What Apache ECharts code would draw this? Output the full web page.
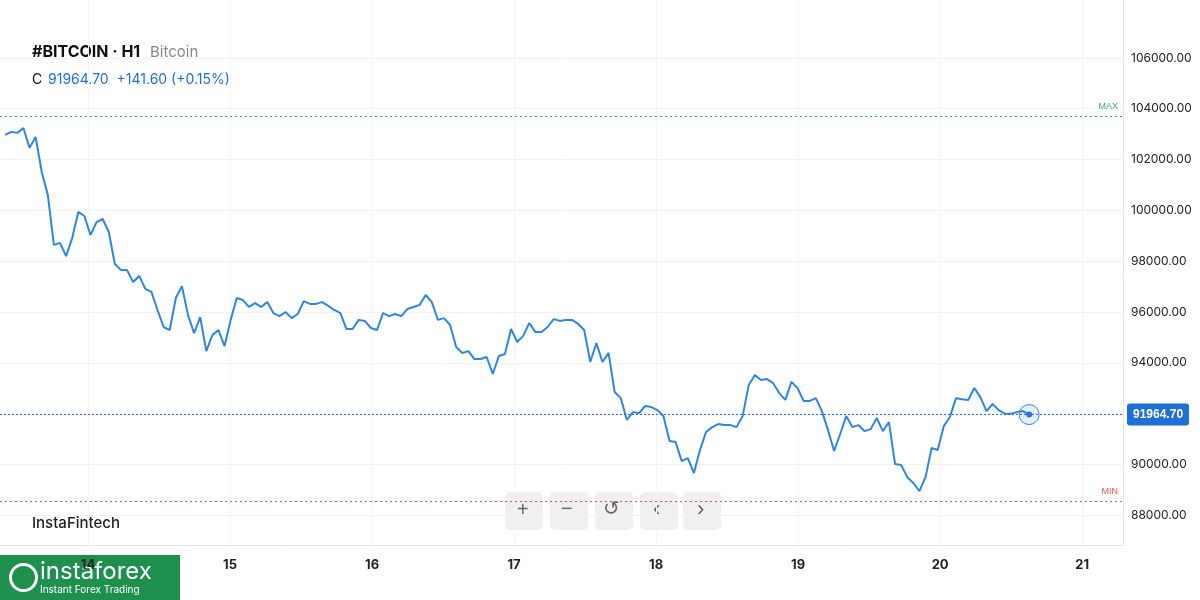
<!DOCTYPE html>
<html>
<head>
<meta charset="utf-8">
<script src="https://cdn.jsdelivr.net/npm/echarts@6/dist/echarts.min.js"></script>
<style>
  body { margin: 0; background: #fff; }
  #chart { width: 1200px; height: 600px; }
</style>
</head>
<body>
<div id="chart"></div>
<script>
// closes sampled about every hour, first sample near hour 10 of day 13
const startHour = 10;
const sampleHours = 1.03;
const prices = [
  102970, 103090, 103050, 103240, 102460, 102890, 101510, 100610, 98640, 98720,
  98200, 98910, 99940, 99780, 99030, 99540, 99660, 99150, 97890, 97650,
  97650, 97180, 97420, 96910, 96790, 96080, 95410, 95290, 96550, 97020,
  95880, 95170, 95800, 94460, 95090, 95290, 94660, 95690, 96550, 96470,
  96200, 96350, 96200, 96390, 95960, 95840, 96000, 95760, 95920, 96430,
  96320, 96320, 96390, 96240, 96080, 95960, 95330, 95330, 95690, 95650,
  95370, 95290, 95960, 95840, 95920, 95840, 96120, 96200, 96280, 96670,
  96390, 95690, 95760, 95490, 94620, 94390, 94460, 94150, 94150, 94230,
  93560, 94270, 94350, 95330, 94820, 95060, 95570, 95210, 95210, 95410,
  95720, 95650, 95690, 95690, 95530, 95290, 94030, 94780, 94030, 94390,
  92850, 92610, 91750, 92060, 92020, 92300, 92260, 92140, 91910, 90920,
  90880, 90130, 90250, 89660, 90570, 91280, 91470, 91590, 91550, 91550,
  91470, 91910, 93130, 93520, 93320, 93360, 93200, 92810, 92540, 93250,
  93010, 92500, 92500, 92610, 92100, 91350, 90530, 91200, 91910, 91470,
  91550, 91310, 91390, 91830, 91310, 91670, 90020, 89980, 89500, 89270,
  88950, 89500, 90650, 90570, 91510, 91870, 92610, 92570, 92540, 93010,
  92650, 92100, 92380, 92140, 92000, 92000, 92060, 92100, 91964.7
];
const yTicks = [88000, 90000, 92000, 94000, 96000, 98000, 100000, 102000, 104000, 106000];
const dayTicks = [24, 48, 72, 96, 120, 144, 168, 192];
const maxLevel = 103700;
const minLevel = 88560;
const lastPrice = 91964.70;

const lineData = prices.map((p, i) => [startHour + i * sampleHours, p]);
const lastPoint = lineData[lineData.length - 1];

const chart = echarts.init(document.getElementById("chart"));
chart.setOption({
  animation: false,
  grid: { left: 0, right: 77, top: 0, bottom: 55 },
  xAxis: {
    type: "value", min: 9.13, max: 198.9,
    axisLine: { show: true, lineStyle: { color: "#e6e6e6" } },
    axisTick: { show: false, customValues: dayTicks },
    splitLine: { show: true, lineStyle: { color: "#f4f4f4" } },
    axisLabel: {
      customValues: dayTicks, color: "#222", fontSize: 13, fontWeight: "bold",
      fontFamily: "Inter", margin: 14,
      formatter: v => String(13 + v / 24)
    }
  },
  yAxis: {
    type: "value", position: "right", min: 86830, max: 108280,
    axisLine: { show: true, lineStyle: { color: "#e6e6e6" } },
    axisTick: { show: false, customValues: yTicks },
    splitLine: { show: true, lineStyle: { color: "#f2f2f2" } },
    axisLabel: {
      customValues: yTicks, color: "#222", fontSize: 12, fontFamily: "Inter", margin: 8,
      formatter: v => v.toFixed(2)
    }
  },
  series: [{
    type: "line", data: lineData, symbol: "none",
    lineStyle: { color: "#2f86de", width: 2 },
    markLine: {
      silent: true, symbol: "none",
      data: [
        { yAxis: maxLevel, lineStyle: { color: "#3aa76d", type: [2, 3], width: 1 },
          label: { formatter: "MAX", position: "insideEndTop", color: "#3aa76d", fontSize: 9 } },
        { yAxis: minLevel, lineStyle: { color: "#e05555", type: [2, 3], width: 1 },
          label: { formatter: "MIN", position: "insideEndTop", color: "#e05555", fontSize: 9 } },
        { yAxis: lastPrice, lineStyle: { color: "#2f6fd0", type: [2, 2], width: 1 },
          label: { formatter: "91964.70", position: "end", color: "#fff", backgroundColor: "#1f6fd6",
                   padding: [5, 6], borderRadius: 3, fontSize: 12, fontWeight: "bold", distance: 4 } }
      ]
    },
    markPoint: {
      symbol: "circle", silent: true, label: { show: false },
      data: [
        { coord: lastPoint, symbolSize: 20,
          itemStyle: { color: "rgba(47,134,222,0.12)", borderColor: "#2f86de", borderWidth: 1 } },
        { coord: lastPoint, symbolSize: 6, itemStyle: { color: "#2f6fd0" } }
      ]
    }
  }],
  graphic: [
    { type: "text", left: 32, top: 44, style: { text: "#BITCOIN · H1", fontSize: 16, fontWeight: "bold", fill: "#111", fontFamily: "Inter" } },
    { type: "text", left: 150, top: 45, style: { text: "Bitcoin", fontSize: 15, fill: "#888", fontFamily: "Inter" } },
    { type: "text", left: 32, top: 73, style: { text: "C", fontSize: 14, fill: "#111", fontFamily: "Inter" } },
    { type: "text", left: 48, top: 73, style: { text: "91964.70  +141.60 (+0.15%)", fontSize: 14, fill: "#1f6fd6", fontFamily: "Inter" } },
    { type: "text", left: 32, top: 516, style: { text: "InstaFintech", fontSize: 15, fill: "#222", fontFamily: "Inter", fontWeight: 500 } },
    { type: "rect", left: 505, top: 492, shape: { width: 38, height: 38, r: 5 }, style: { fill: "#f0f0f0" } },
    { type: "rect", left: 550, top: 492, shape: { width: 38, height: 38, r: 5 }, style: { fill: "#f0f0f0" } },
    { type: "rect", left: 595, top: 492, shape: { width: 38, height: 38, r: 5 }, style: { fill: "#f0f0f0" } },
    { type: "rect", left: 640, top: 492, shape: { width: 38, height: 38, r: 5 }, style: { fill: "#f0f0f0" } },
    { type: "rect", left: 683, top: 492, shape: { width: 38, height: 38, r: 5 }, style: { fill: "#f0f0f0" } },
    { type: "text", left: 517, top: 500, style: { text: "+", fontSize: 20, fill: "#666" } },
    { type: "text", left: 561, top: 499, style: { text: "−", fontSize: 20, fill: "#666" } },
    { type: "text", left: 603, top: 499, style: { text: "↺", fontSize: 20, fill: "#666" } },
    { type: "text", left: 653, top: 499, style: { text: "‹", fontSize: 22, fill: "#666" } },
    { type: "text", left: 697, top: 499, style: { text: "›", fontSize: 22, fill: "#666" } },
    { type: "rect", left: 0, top: 555, shape: { width: 180, height: 45 }, style: { fill: "#1f8f4e" } },
    { type: "circle", left: 8, top: 562, shape: { r: 13 }, style: { fill: "none", stroke: "#fff", lineWidth: 3 } },
    { type: "text", left: 40, top: 560, style: { text: "instaforex", fontSize: 24, fill: "#fff", fontFamily: "Inter" } },
    { type: "text", left: 40, top: 585, style: { text: "Instant Forex Trading", fontSize: 10, fill: "#fff", fontFamily: "Inter" } }
  ]
});
</script>
</body>
</html>
